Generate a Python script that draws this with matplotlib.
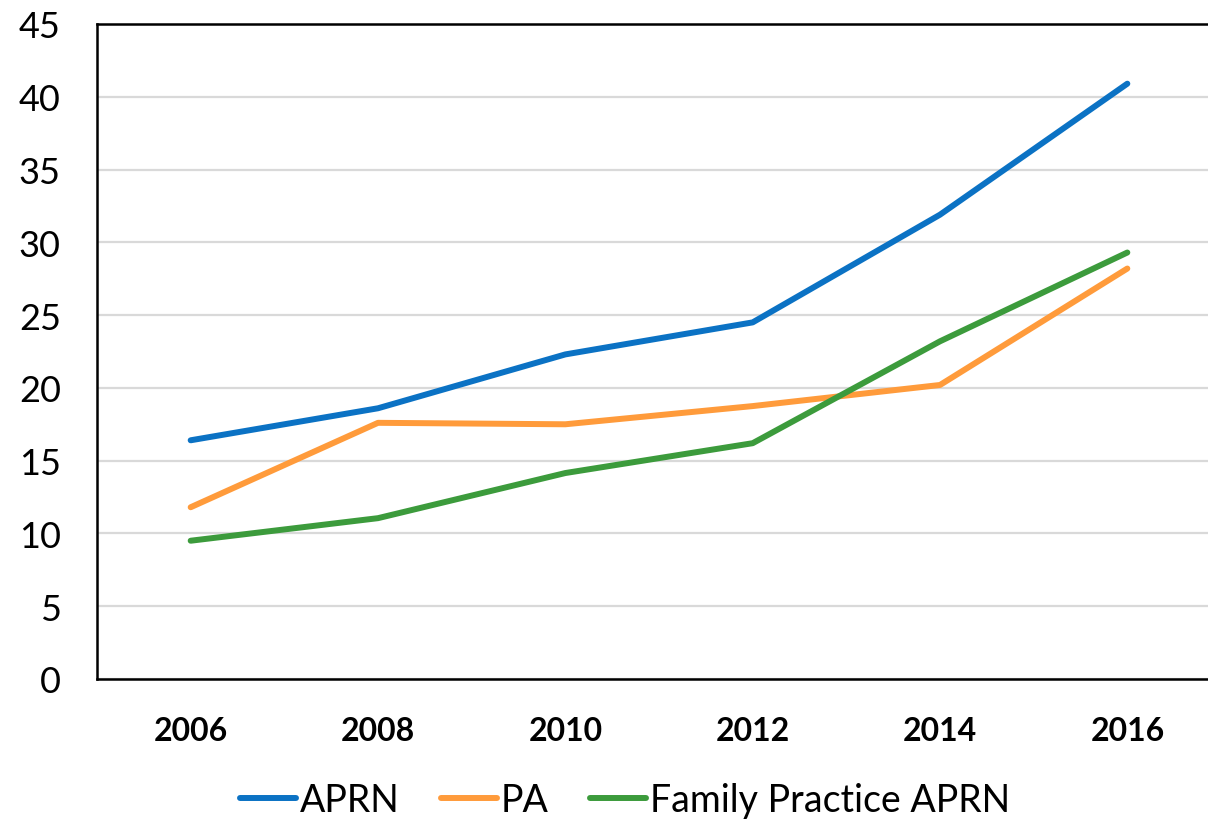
import matplotlib
matplotlib.use("Agg")
import matplotlib.pyplot as plt

years = ["2006", "2008", "2010", "2012", "2014", "2016"]
aprn = [16.4, 18.6, 22.3, 24.5, 31.9, 40.9]
pa = [11.8, 17.6, 17.5, 18.75, 20.2, 28.2]
family = [9.5, 11.05, 14.15, 16.2, 23.2, 29.3]
series_names = ["APRN", "PA", "Family Practice APRN"]
colors = ["#0B72C4", "#FF9B3B", "#3C9B3C"]
yticks = [0, 5, 10, 15, 20, 25, 30, 35, 40, 45]

plt.rcParams['font.family'] = ['Lato', 'DejaVu Sans']

fig = plt.figure(figsize=(12.08, 8.2), dpi=100)
ax = fig.add_axes([97/1208, 1 - 680/820, (1221-97)/1208, (680-25)/820])

x = list(range(len(years)))
for vals, name, c in zip([aprn, pa, family], series_names, colors):
    ax.plot(x, vals, color=c, lw=4.3, label=name, solid_capstyle='round', solid_joinstyle='round')

ax.set_xlim(-0.5, len(years) - 0.5)
ax.set_ylim(0, 45)
ax.set_yticks(yticks)
ax.set_yticklabels([str(v) for v in yticks], fontsize=26)
ax.set_xticks(x)
ax.set_xticklabels(years, fontsize=23, fontweight='bold')
ax.tick_params(axis='both', length=0)
ax.tick_params(axis='y', pad=26)
ax.tick_params(axis='x', pad=27)
ax.grid(axis='y', color='#D9D9D9', lw=1.6)
ax.set_axisbelow(True)
for s in ['left', 'bottom', 'top']:
    ax.spines[s].set_linewidth(1.8)
    ax.spines[s].set_color('black')
ax.spines['right'].set_visible(False)

fig.legend(loc='center', bbox_to_anchor=(625/1208, 1 - 801/820), ncol=3, frameon=False,
           fontsize=27, handlelength=1.5, handletextpad=0.1, columnspacing=1.1)

fig.savefig("out.png", dpi=100)
